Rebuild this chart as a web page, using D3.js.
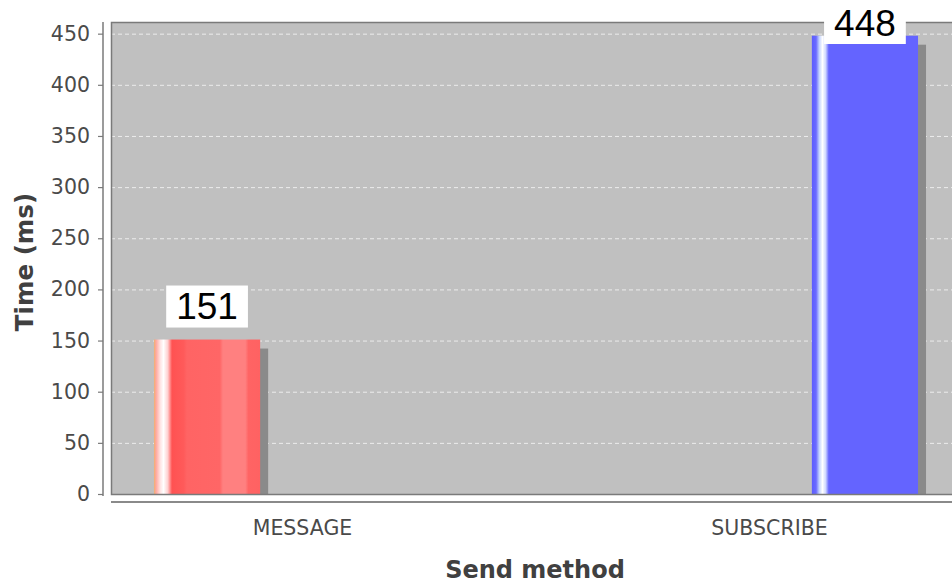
<!DOCTYPE html>
<html>
<head>
<meta charset="utf-8">
<script src="https://cdn.jsdelivr.net/npm/d3@7"></script>
<style>
  html, body { margin: 0; padding: 0; background: #ffffff; }
  svg { display: block; }
</style>
</head>
<body>
<svg id="chart" width="952" height="585"></svg>
<script>
// Send methods on the category axis
const categories = ["MESSAGE", "SUBSCRIBE"];
// One series per send method; each only has a value in its own category
const seriesNames = ["message", "subscribe"];
const messageTimes = [151, null];
const subscribeTimes = [null, 448];
const seriesValues = [messageTimes, subscribeTimes];
const yTicks = [0, 50, 100, 150, 200, 250, 300, 350, 400, 450];
const yMax = 461.4;

const svg = d3.select("#chart");
const plot = { left: 111, top: 22, right: 961, bottom: 494 };

const x0 = d3.scaleBand()
  .domain(categories)
  .range([plot.left, plot.right])
  .paddingInner(0.364)
  .paddingOuter(0.092);

const x1 = d3.scaleBand()
  .domain(seriesNames)
  .range([0, x0.bandwidth()])
  .paddingInner(0.4436)
  .paddingOuter(0);

const y = d3.scaleLinear().domain([0, yMax]).range([plot.bottom, plot.top]);

// Gradients for the glossy bars
const defs = svg.append("defs");
function gradient(id, stops) {
  const g = defs.append("linearGradient").attr("id", id)
    .attr("x1", "0").attr("y1", "0").attr("x2", "1").attr("y2", "0");
  stops.forEach(([o, c]) => g.append("stop").attr("offset", o).attr("stop-color", c));
}
gradient("grad-message", [
  [0, "#f0b070"], [0.02, "#ffa8a0"], [0.06, "#ffe4e4"], [0.09, "#ffffff"],
  [0.13, "#ffd0d0"], [0.17, "#ff5252"], [0.28, "#ff5a5a"], [0.31, "#ff6464"],
  [0.62, "#ff6666"], [0.65, "#ff8080"], [0.86, "#ff8080"], [0.89, "#ff6464"],
  [1, "#ff6262"]
]);
gradient("grad-subscribe", [
  [0, "#5c5cff"], [0.04, "#6a6aff"], [0.07, "#c4d4ff"], [0.10, "#ffffff"],
  [0.13, "#d0d8ff"], [0.16, "#6464ff"], [1, "#6464ff"]
]);
const fills = ["url(#grad-message)", "url(#grad-subscribe)"];

defs.append("clipPath").attr("id", "plot-clip")
  .append("rect")
  .attr("x", plot.left).attr("y", plot.top)
  .attr("width", plot.right - plot.left).attr("height", plot.bottom - plot.top);

// Plot background
svg.append("rect")
  .attr("x", plot.left).attr("y", plot.top)
  .attr("width", plot.right - plot.left).attr("height", plot.bottom - plot.top)
  .attr("fill", "#c0c0c0");

// Horizontal gridlines
svg.append("g").selectAll("line").data(yTicks.filter(d => d > 0)).join("line")
  .attr("x1", plot.left).attr("x2", plot.right)
  .attr("y1", d => y(d) + 0.5).attr("y2", d => y(d) + 0.5)
  .attr("stroke", "#ececec").attr("stroke-width", 1)
  .attr("stroke-dasharray", "4,3");

// Bars with drop shadows
const bars = [];
seriesValues.forEach((vals, s) => {
  vals.forEach((v, c) => {
    if (v != null) bars.push({ cat: categories[c], series: seriesNames[s], s, value: v });
  });
});
const barLayer = svg.append("g").attr("clip-path", "url(#plot-clip)");
barLayer.selectAll("rect.shadow").data(bars).join("rect")
  .attr("class", "shadow")
  .attr("x", d => x0(d.cat) + x1(d.series) + 8)
  .attr("y", d => y(d.value) + 9)
  .attr("width", x1.bandwidth())
  .attr("height", d => plot.bottom - y(d.value))
  .attr("fill", "#8a8a8a");
barLayer.selectAll("rect.bar").data(bars).join("rect")
  .attr("class", "bar")
  .attr("x", d => x0(d.cat) + x1(d.series))
  .attr("y", d => y(d.value))
  .attr("width", x1.bandwidth())
  .attr("height", d => plot.bottom - y(d.value))
  .attr("fill", d => fills[d.s]);

// Plot border
svg.append("rect")
  .attr("x", plot.left + 0.5).attr("y", plot.top + 0.5)
  .attr("width", plot.right - plot.left).attr("height", plot.bottom - plot.top)
  .attr("fill", "none").attr("stroke", "#7a7a7a").attr("stroke-width", 1.5);

// Y axis
const yAxis = d3.axisLeft(y).tickValues(yTicks).tickSize(5).tickPadding(8);
const gy = svg.append("g").attr("transform", "translate(103,0)").call(yAxis);
gy.select(".domain").attr("stroke", "#7a7a7a").attr("stroke-width", 1.5)
  .attr("d", `M0,${plot.top}V${plot.bottom + 2}`);
gy.selectAll(".tick line").attr("stroke", "#7a7a7a").attr("stroke-width", 1.2);
gy.selectAll(".tick text")
  .attr("fill", "#4a4a4a")
  .style("font-family", "'DejaVu Sans', sans-serif")
  .style("font-size", "20.5px");

// X axis
const xAxis = d3.axisBottom(x0).tickSize(0).tickPadding(18);
const gx = svg.append("g").attr("transform", "translate(0,502)").call(xAxis);
gx.select(".domain").attr("stroke", "#8a8a8a").attr("stroke-width", 2)
  .attr("d", `M${plot.left},0H${plot.right}`);
gx.selectAll(".tick text")
  .attr("fill", "#4a4a4a")
  .style("font-family", "'DejaVu Sans', sans-serif")
  .style("font-size", "20.5px");

// Axis titles
svg.append("text")
  .attr("transform", "translate(33,262) rotate(-90)")
  .attr("text-anchor", "middle")
  .attr("fill", "#404040")
  .style("font-family", "'DejaVu Sans', sans-serif")
  .style("font-weight", "bold")
  .style("font-size", "24.5px")
  .text("Time (ms)");
svg.append("text")
  .attr("x", 535).attr("y", 578)
  .attr("text-anchor", "middle")
  .attr("fill", "#404040")
  .style("font-family", "'DejaVu Sans', sans-serif")
  .style("font-weight", "bold")
  .style("font-size", "24px")
  .text("Send method");

// Value labels in white boxes above the bars
const boxH = 42;
const labels = svg.append("g").selectAll("g").data(bars).join("g");
labels.each(function (d) {
  const g = d3.select(this);
  const cx = x0(d.cat) + x1(d.series) + x1.bandwidth() / 2;
  let top = y(d.value) - 12 - boxH;
  if (top < 2) top = 2;
  const t = g.append("text")
    .attr("x", cx).attr("y", top + boxH / 2)
    .attr("text-anchor", "middle")
    .attr("dominant-baseline", "central")
    .attr("fill", "#000000")
    .style("font-family", "'Liberation Sans', Arial, sans-serif")
    .style("font-size", "37px")
    .text(d.value);
  const w = t.node().getComputedTextLength() + 20;
  g.insert("rect", "text")
    .attr("x", cx - w / 2).attr("y", top)
    .attr("width", w).attr("height", boxH)
    .attr("fill", "#ffffff");
});
</script>
</body>
</html>
